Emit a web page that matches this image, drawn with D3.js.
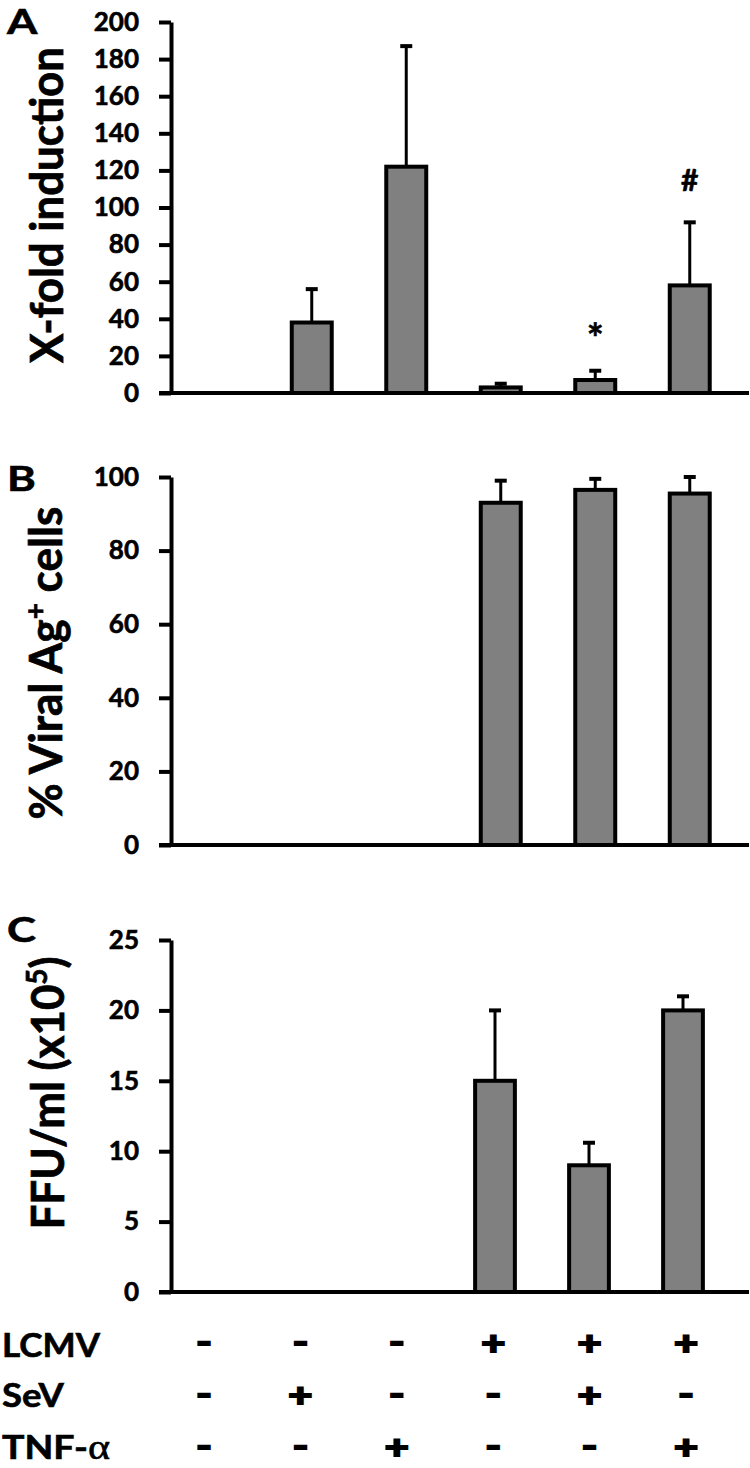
<!DOCTYPE html>
<html><head><meta charset="utf-8">
<script src="https://cdn.jsdelivr.net/npm/d3@7"></script>
<style>
body{margin:0;background:#fff}
svg text{font-family:Lato,'Open Sans',sans-serif;font-weight:700;fill:#000;stroke:#000;stroke-width:0.6px}
</style>
</head><body>
<svg id="chart" width="750" height="1468"></svg>
<script>
// ---------------- data ----------------
const categories = ["c1","c2","c3","c4","c5","c6"];
const lcmvRow = ["-","-","-","+","+","+"];
const sevRow  = ["-","+","-","-","+","-"];
const tnfRow  = ["-","-","+","-","-","+"];
const rowLabels = ["LCMV","SeV","TNF-"];

const foldMean = [0, 38, 122, 3, 7, 58];
const foldErr  = [0, 18, 65, 2, 5, 34];
const foldMarks = ["", "", "", "", "*", "#"];
const foldTicks = [0,20,40,60,80,100,120,140,160,180,200];

const viralMean = [0, 0, 0, 93, 96.5, 95.5];
const viralErr  = [0, 0, 0, 6, 3, 4.5];
const viralTicks = [0,20,40,60,80,100];

const ffuMean = [0, 0, 0, 15, 9, 20];
const ffuErr  = [0, 0, 0, 5, 1.6, 1];
const ffuTicks = [0,5,10,15,20,25];

// ---------------- drawing ----------------
const svg = d3.select("#chart");
const AXIS_X = 171, AXIS_END = 749;

function panel(cfg){
  const y = d3.scaleLinear().domain([0, cfg.max]).range([cfg.yZero, cfg.yTop]);
  const x = d3.scaleBand().domain(categories).range(cfg.xRange)
              .paddingInner(0.577).paddingOuter(0.2885);
  const g = svg.append("g");
  const data = categories.map((c,i)=>({c, v:cfg.mean[i], e:cfg.err[i], m:(cfg.marks||[])[i]||""}))
                         .filter(d=>d.v>0);
  // bars
  g.selectAll("rect.bar").data(data).join("rect").attr("class","bar")
    .attr("x", d=>x(d.c)).attr("width", x.bandwidth())
    .attr("y", d=>y(d.v)).attr("height", d=>y(0)-y(d.v))
    .attr("fill","#808080").attr("stroke","#000").attr("stroke-width",4);
  // error bars
  g.selectAll("line.err").data(data).join("line").attr("class","err")
    .attr("x1", d=>x(d.c)+x.bandwidth()/2).attr("x2", d=>x(d.c)+x.bandwidth()/2)
    .attr("y1", d=>y(d.v)).attr("y2", d=>y(d.v+d.e))
    .attr("stroke","#000").attr("stroke-width",3);
  g.selectAll("line.cap").data(data).join("line").attr("class","cap")
    .attr("x1", d=>x(d.c)+x.bandwidth()/2-6).attr("x2", d=>x(d.c)+x.bandwidth()/2+6)
    .attr("y1", d=>y(d.v+d.e)).attr("y2", d=>y(d.v+d.e))
    .attr("stroke","#000").attr("stroke-width",4);
  // marks
  g.selectAll("text.mark").data(data.filter(d=>d.m)).join("text").attr("class","mark")
    .attr("x", d=>x(d.c)+x.bandwidth()/2)
    .attr("y", d=>y(d.v+d.e) - (d.m==="*" ? 18 : 31))
    .attr("text-anchor","middle").attr("font-size", d=>d.m==="*" ? 40 : 30).text(d=>d.m);
  // y axis
  const ax = d3.axisLeft(y).tickValues(cfg.ticks).tickSize(12).tickPadding(20).tickSizeOuter(0);
  const ga = g.append("g").attr("transform",`translate(${AXIS_X},0)`).call(ax);
  ga.select(".domain").attr("stroke","#000").attr("stroke-width",4);
  ga.selectAll(".tick line").attr("stroke","#000").attr("stroke-width",4);
  ga.selectAll(".tick text").attr("font-size",26).attr("fill","#000")
    .style("font-family","Lato, 'Open Sans', sans-serif").style("font-weight",700);
  // x axis line
  g.append("line").attr("x1",AXIS_X-12).attr("x2",AXIS_END)
    .attr("y1",y(0)).attr("y2",y(0)).attr("stroke","#000").attr("stroke-width",4);
  // panel letter
  svg.append("text").attr("transform",`translate(7,${cfg.letterY}) scale(1.25,1)`)
    .attr("font-size",35).text(cfg.letter);
  // y label
  const t = svg.append("g").attr("transform",`translate(${cfg.labelX},${cfg.labelY}) scale(1.2,1) rotate(-90)`)
    .append("text").attr("text-anchor","middle").attr("font-size",38)
    .attr("textLength",cfg.labelLen).attr("lengthAdjust","spacingAndGlyphs");
  cfg.label(t);
  return {x,y};
}

panel({max:200, yZero:393, yTop:22, xRange:[170,737], mean:foldMean, err:foldErr,
  marks:foldMarks, ticks:foldTicks, letter:"A", letterY:34,
  labelX:63, labelY:205, labelLen:316,
  label:t=>t.text("X-fold induction")});

panel({max:100, yZero:845, yTop:477, xRange:[170,737], mean:viralMean, err:viralErr,
  ticks:viralTicks, letter:"B", letterY:491,
  labelX:62, labelY:663, labelLen:313,
  label:t=>{
    t.append("tspan").text("% Viral Ag");
    t.append("tspan").attr("baseline-shift","super").attr("font-size",24).text("+");
    t.append("tspan").text(" cells");
  }});

panel({max:25, yZero:1292, yTop:940, xRange:[166,730], mean:ffuMean, err:ffuErr,
  ticks:ffuTicks, letter:"C", letterY:942,
  labelX:64, labelY:1093, labelLen:273,
  label:t=>{
    t.append("tspan").text("FFU/ml (x10");
    t.append("tspan").attr("baseline-shift","super").attr("font-size",24).text("5");
    t.append("tspan").attr("baseline-shift","0").text(")");
  }});

// ---------------- condition table ----------------
const col = d3.scalePoint().domain(categories).range([204,686]);
const rows = [lcmvRow, sevRow, tnfRow];
const rowBase = [1357, 1407, 1459];
const rowCenter = [1344, 1396, 1448];
const rowWidths = [98, 62, 108];
rows.forEach((r,i)=>{
  const lab = svg.append("text").attr("x",2).attr("y",rowBase[i]).attr("font-size",32)
    .attr("textLength",rowWidths[i]).attr("lengthAdjust","spacingAndGlyphs");
  lab.append("tspan").text(rowLabels[i]);
  if(i===2) lab.append("tspan").style("font-family","'Liberation Serif', serif")
      .style("font-weight",400).attr("font-size",36).text("α");
  svg.selectAll(null).data(categories).join("text")
    .attr("transform",(c)=>`translate(${col(c)},${rowCenter[i]}) scale(1.3,1)`)
    .attr("text-anchor","middle").attr("font-size",32)
    .style("stroke-width","2px").style("stroke-linejoin","miter")
    .attr("dy", (c,j)=> r[j]==="+" ? "0.33em" : "0.28em")
    .text((c,j)=>r[j]);
});
</script>
</body></html>
